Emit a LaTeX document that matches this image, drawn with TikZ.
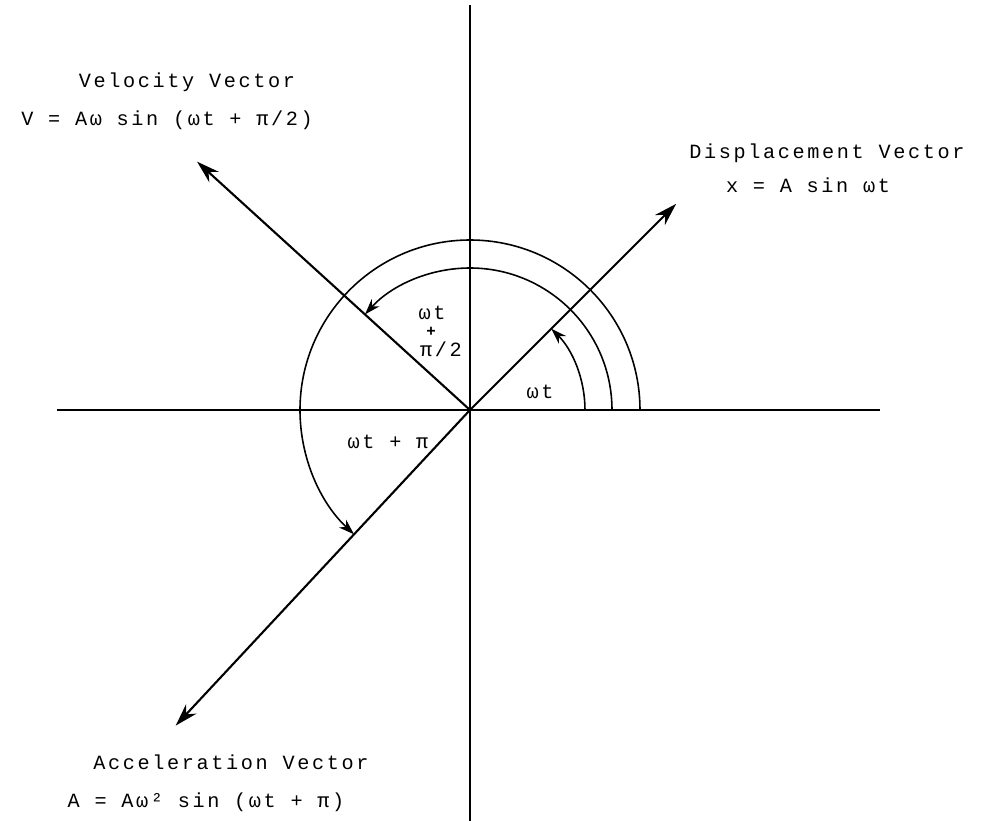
\documentclass[tikz,border=0pt]{standalone}
\usepackage{fontspec}
\usepackage{tikz}
\usetikzlibrary{arrows.meta}
\newfontfamily\typefont{Liberation Mono}[LetterSpace=13]

\tikzset{
  vec/.style={line width=1.2pt, -{Stealth[length=13pt,width=8pt]}},
  axis/.style={line width=0.9pt},
  arcarrow/.style={line width=0.9pt, -{Stealth[length=9pt,width=6pt]}},
  lbl/.style={font=\typefont\fontsize{11.5}{14}\selectfont, inner sep=1pt}
}

\begin{document}
\begin{tikzpicture}
        \useasboundingbox (-9.4,-8.22) rectangle (10.22,8.2);

        % Axes
        \coordinate (O) at (0,0);
        \coordinate (xl) at (-8.26,0);
        \coordinate (xr) at (8.2,0);
        \coordinate (yt) at (0,8.1);
        \coordinate (yb) at (0,-8.22);
        \draw[axis] (xl) -- (xr);
        \draw[axis] (yb) -- (yt);

        % Vectors
        \coordinate (disp) at (45:5.83);
        \coordinate (vel) at (137.7:7.38);
        \coordinate (acc) at (227:8.63);
        \draw[vec] (O) -- (disp);
        \draw[vec] (O) -- (vel);
        \draw[vec] (O) -- (acc);

        % Angle arcs
        \draw[arcarrow] ([shift={(0:2.3)}]O) arc[start angle=0, end angle=45, radius=2.3];
        \draw[arcarrow] ([shift={(0:2.84)}]O) arc[start angle=0, end angle=137.7, radius=2.84];
        \draw[arcarrow] ([shift={(0:3.4)}]O) arc[start angle=0, end angle=227, radius=3.4];

        % Angle labels
        \node[lbl] (a1) at (1.4,0.36) {ωt};
        \node[lbl] (a2) at (-0.76,1.94) {ωt};
        \node[lbl, font=\typefont\bfseries\fontsize{9}{10}\selectfont] (a2p) at (-0.78,1.56) {+};
        \node[lbl] (a2q) at (-0.58,1.22) {π/2};
        \node[lbl] (a3) at (-1.64,-0.64) {ωt + π};

        % Vector labels
        \node[lbl] (vtitle) at (-5.66,6.56) {Velocity Vector};
        \node[lbl] (veq) at (-6.06,5.8) {V = Aω sin (ωt + π/2)};
        \node[lbl] (dtitle) at (7.14,5.14) {Displacement Vector};
        \node[lbl] (deq) at (6.76,4.5) {x = A sin ωt};
        \node[lbl] (atitle) at (-4.78,-7.04) {Acceleration Vector};
        \node[lbl] (aeq) at (-5.28,-7.84) {A = Aω² sin (ωt + π)};

    \end{tikzpicture}
\end{document}
